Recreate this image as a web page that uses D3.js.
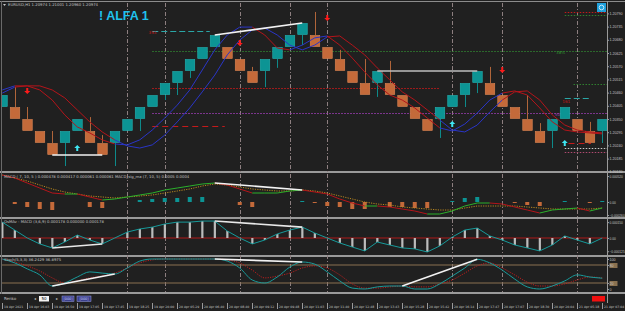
<!DOCTYPE html>
<html>
<head>
<meta charset="utf-8">
<script src="https://cdnjs.cloudflare.com/ajax/libs/d3/7.8.5/d3.min.js"></script>
<style>
  body { margin: 0; background: #202020; }
  svg { display: block; font-family: "DejaVu Sans", sans-serif; }
</style>
</head>
<body>
<div id="chart"></div>
<script>
// ---- renko bricks (close price, 1 = up brick) ----
const boxSize = 0.0005;
const brickClose = [1.20450, 1.20350, 1.20300, 1.20250, 1.20200, 1.20300, 1.20350, 1.20250, 1.20200, 1.20300,
  1.20350, 1.20400, 1.20450, 1.20500, 1.20550, 1.20600, 1.20650, 1.20700, 1.20600, 1.20550,
  1.20500, 1.20600, 1.20650, 1.20700, 1.20750, 1.20650, 1.20600, 1.20550, 1.20500, 1.20450,
  1.20550, 1.20450, 1.20400, 1.20350, 1.20300, 1.20400, 1.20450, 1.20500, 1.20550, 1.20450,
  1.20400, 1.20350, 1.20300, 1.20250, 1.20350, 1.20400, 1.20300, 1.20250, 1.20350];
const brickUp = [1, 0, 0, 0, 0, 1, 1, 0, 0, 1, 1, 1, 1, 1, 1, 1, 1, 1, 0, 0,
  0, 1, 1, 1, 1, 0, 0, 0, 0, 0, 1, 0, 0, 0, 0, 1, 1, 1, 1, 0,
  0, 0, 0, 0, 1, 1, 0, 0, 1];
// wick extremes (null = no wick)
const wickHigh = [null, 1.20483, 1.20400, null, 1.20300, null, null, 1.20358, 1.20283, null,
  null, null, null, null, null, null, null, null, null, null,
  1.20567, null, null, null, null, 1.20796, null, 1.20638, null, 1.20600,
  null, 1.20592, null, null, null, null, null, null, null, 1.20567,
  null, null, 1.20450, 1.20333, null, null, null, 1.20338, null];
const wickLow = [null, null, null, null, null, 1.20154, null, null, null, 1.20154,
  null, 1.20300, null, 1.20429, 1.20450, 1.20521, null, null, null, null,
  null, 1.20483, 1.20563, null, 1.20658, null, null, null, null, null,
  1.20442, null, null, null, null, 1.20271, null, 1.20400, 1.20458, null,
  null, null, null, null, 1.20229, null, null, null, 1.20250];

// ---- two trend lines on the price chart ----
const maFast = [1.20458, 1.20483, 1.20488, 1.20471, 1.20429, 1.20367, 1.20317, 1.20292, 1.20263, 1.20246,
  1.20242, 1.20263, 1.20304, 1.20354, 1.20408, 1.20471, 1.20554, 1.20638, 1.20700, 1.20733,
  1.20733, 1.20700, 1.20646, 1.20638, 1.20658, 1.20688, 1.20696, 1.20658, 1.20604, 1.20546,
  1.20492, 1.20450, 1.20429, 1.20396, 1.20354, 1.20313, 1.20300, 1.20329, 1.20375, 1.20429,
  1.20458, 1.20467, 1.20450, 1.20396, 1.20338, 1.20304, 1.20296, 1.20292, 1.20288];
const maSlow = [1.20471, 1.20488, 1.20488, 1.20488, 1.20471, 1.20438, 1.20388, 1.20338, 1.20296, 1.20263,
  1.20238, 1.20229, 1.20242, 1.20283, 1.20338, 1.20396, 1.20463, 1.20533, 1.20617, 1.20679,
  1.20721, 1.20729, 1.20700, 1.20658, 1.20638, 1.20658, 1.20692, 1.20696, 1.20658, 1.20617,
  1.20563, 1.20513, 1.20463, 1.20429, 1.20388, 1.20346, 1.20304, 1.20296, 1.20325, 1.20379,
  1.20429, 1.20463, 1.20467, 1.20429, 1.20367, 1.20325, 1.20304, 1.20296, 1.20292];
// 1 = blue (up), -1 = red (down)
const fastDir = [1, 1, -1, -1, -1, -1, -1, -1, -1, -1, 1, 1, 1, 1, 1, 1, 1, 1, 1, 1,
  1, -1, -1, -1, 1, 1, 1, -1, -1, -1, -1, -1, -1, -1, -1, -1, 1, 1, 1, 1,
  1, -1, -1, -1, -1, -1, -1, -1, -1];
const slowDir = [1, 1, -1, -1, -1, -1, -1, -1, -1, -1, 1, 1, 1, 1, 1, 1, 1, 1, 1, 1,
  1, 1, 1, 1, 1, 1, 1, -1, -1, -1, -1, -1, -1, -1, -1, -1, 1, 1, 1, 1,
  1, -1, -1, -1, -1, -1, -1, -1, -1];

// signals: [brick index, price]
const sellArrows = [[2, 1.20467], [19, 1.20667], [26, 1.20771], [40, 1.20554]];
const buyArrows = [[6, 1.20229], [36, 1.20329], [45, 1.20250]];

// horizontal levels: [price, from index, to index]
const levelPrices = [1.20717, 1.20633, 1.20479, 1.20375, 1.20322, 1.20796, 1.20783, 1.20496, 1.20438, 1.20250, 1.20229, 1.20213];
const levelFrom = [12, 12, 12, 12, 12, 45, 45, 45.7, 45, 45.3, 45, 45];
const levelTo = [16.6, 48.4, 35, 48.4, 17.8, 48.4, 48.4, 48.4, 47, 47.1, 48.4, 48.4];
const levelStyle = ['tealDash', 'greenDot', 'redDot', 'purpleDot', 'redDash', 'redDot', 'greenDot', 'greenDot', 'tealDash', 'redDash', 'whiteDot', 'pinkDot'];

// trend lines drawn on each window: [from index, to index]
const mainLows = [[4, 8]];
const mainHighs = [[17, 24], [30, 38]];
const macdTrends = [[17, 24]];
const osmaTrends = [[4, 8], [17, 24]];
const stochTrends = [[4, 9], [17, 24], [32, 38]];

const priceTicks = [1.20790, 1.20735, 1.20680, 1.20625, 1.20570, 1.20515, 1.20460, 1.20405, 1.20350, 1.20295, 1.20240, 1.20185, 1.20130];

// ---- MACD window ----
const macdLine = [0.00054, 0.00048, 0.00038, 0.00028, 0.00018, 0.00016, 0.00016, 0.00010, 0.00004, 0.00006,
  0.00010, 0.00014, 0.00018, 0.00024, 0.00028, 0.00032, 0.00036, 0.00038, 0.00034, 0.00026,
  0.00018, 0.00018, 0.00018, 0.00022, 0.00024, 0.00020, 0.00016, 0.00006, -0.00002, -0.00008,
  -0.00008, -0.00010, -0.00014, -0.00018, -0.00024, -0.00024, -0.00018, -0.00008, -0.00002, -0.00002,
  -0.00004, -0.00010, -0.00016, -0.00022, -0.00016, -0.00014, -0.00012, -0.00018, -0.00012];
const macdSignal = [0.00054, 0.00048, 0.00042, 0.00034, 0.00026, 0.00020, 0.00016, 0.00012, 0.00010, 0.00008,
  0.00010, 0.00012, 0.00014, 0.00018, 0.00022, 0.00026, 0.00032, 0.00036, 0.00034, 0.00030,
  0.00026, 0.00024, 0.00022, 0.00022, 0.00024, 0.00022, 0.00018, 0.00012, 0.00006, 0.00000,
  -0.00004, -0.00006, -0.00010, -0.00012, -0.00014, -0.00016, -0.00016, -0.00012, -0.00008, -0.00008,
  -0.00008, -0.00008, -0.00010, -0.00012, -0.00014, -0.00014, -0.00014, -0.00014, -0.00012];
const macdHist = [0, -0.00004, -0.00010, -0.00014, -0.00016, 0, 0, -0.00010, -0.00012, 0,
  0, 0.00004, 0.00006, 0.00008, 0.00008, 0.00010, 0.00010, 0, 0, -0.00006,
  -0.00010, 0, 0, 0, 0.00002, -0.00002, -0.00008, -0.00010, -0.00014, -0.00014,
  0, -0.00010, -0.00010, -0.00012, -0.00012, 0, 0.00002, 0.00008, 0.00010, 0,
  0, -0.00002, -0.00006, -0.00008, 0, 0.00002, 0, -0.00002, 0.00002];

// ---- OsMA window ----
const osma = [0.000150, 0.000075, 0, -0.000056, -0.000094, -0.000038, 0.000028, -0.000019, -0.000056, 0,
  0.000056, 0.000085, 0.000103, 0.000132, 0.000150, 0.000150, 0.000160, 0.000160, 0.000066, 0,
  -0.000056, -0.000019, 0.000038, 0.000075, 0.000103, 0.000047, 0, -0.000047, -0.000085, -0.000122,
  -0.000038, -0.000066, -0.000094, -0.000103, -0.000132, -0.000075, 0.000009, 0.000075, 0.000094, 0.000019,
  -0.000019, -0.000066, -0.000094, -0.000122, -0.000066, 0.000019, -0.000019, -0.000056, 0];

// ---- Stochastic window ----
const stochMain = [100, 87, 67, 47, 10, 20, 40, 57, 53, 50, 70, 93, 100, 100, 100, 100, 100, 100, 93, 70,
  30, 20, 40, 73, 90, 83, 57, 27, 3, 0, 7, 10, 10, 0, 0, 17, 43, 70, 99, 87,
  63, 33, 7, 0, 10, 27, 47, 40, 36];
const stochSignal = [100, 90, 77, 60, 37, 20, 27, 37, 43, 53, 70, 87, 97, 100, 100, 100, 100, 100, 97, 87,
  63, 37, 43, 53, 70, 77, 70, 47, 17, 3, 3, 7, 10, 7, 7, 17, 30, 53, 77, 87,
  70, 47, 23, 10, 10, 17, 30, 40, 37];
const stochLevels = [80, 20];

// period separators (brick index)
const separators = [10, 13, 19, 23, 26, 36, 40, 46];

const timeLabels = ['19 Apr 2021', '19 Apr 16:03', '19 Apr 16:50', '19 Apr 17:05', '19 Apr 17:45', '19 Apr 18:25',
  '19 Apr 20:00', '20 Apr 05:29', '20 Apr 06:40', '20 Apr 08:40', '20 Apr 09:12', '20 Apr 09:48',
  '20 Apr 11:03', '20 Apr 11:40', '20 Apr 12:48', '20 Apr 13:43', '20 Apr 15:28', '20 Apr 15:42',
  '20 Apr 16:14', '20 Apr 17:47', '20 Apr 17:07', '20 Apr 18:30', '20 Apr 20:04', '21 Apr 05:18', '21 Apr 07:04'];

// ------------------------------------------------------------
const W = 625, H = 311;
const plotRight = 607;
const bg = '#202020';
const teal = '#0c9494', tealEdge = '#23b3b3';
const orange = '#c46a3a', orangeEdge = '#dc8552';
const axisText = '#c4c4c4';

const svg = d3.select('#chart').append('svg').attr('width', W).attr('height', H);
svg.append('rect').attr('width', W).attr('height', H).attr('fill', bg);

const idx = d3.range(brickClose.length);
const x = d3.scaleLinear().domain([0, 48]).range([2.25, 602.25]);

const panels = {
    main: [3, 171],
    macd: [173, 217],
    osma: [219, 255],
    stoch: [257, 292]
};

const defs = svg.append('defs');
Object.entries(panels).forEach(([name, [t, b]]) => {
    defs.append('clipPath').attr('id', 'clip-' + name)
        .append('rect').attr('x', 2).attr('y', t).attr('width', plotRight - 2).attr('height', b - t);
});

// panel separators
const seps = [[171, 173], [217, 219], [255, 257], [292, 294]];
seps.forEach(([a, b]) => {
    svg.append('rect').attr('x', 0).attr('y', a).attr('width', W).attr('height', b - a).attr('fill', '#9a9a9a');
});
svg.append('line').attr('x1', 0).attr('x2', W).attr('y1', 1.5).attr('y2', 1.5).attr('stroke', '#8c8c8c');
svg.append('line').attr('x1', 1.5).attr('x2', 1.5).attr('y1', 1).attr('y2', 294).attr('stroke', '#6a6a6a');
svg.append('line').attr('x1', plotRight + 0.5).attr('x2', plotRight + 0.5).attr('y1', 1).attr('y2', 303).attr('stroke', '#9a9a9a');

// period separators through all windows
svg.append('g').selectAll('line').data(separators).enter().append('line')
    .attr('x1', d => Math.round(x(d)) + 0.5).attr('x2', d => Math.round(x(d)) + 0.5)
    .attr('y1', 3).attr('y2', 292)
    .attr('stroke', '#8d7f80').attr('stroke-width', 1)
    .attr('stroke-dasharray', '4,2,1,2');

// ===================== main window =====================
const yMain = d3.scaleLinear().domain([1.20750, 1.20200]).range([23, 155]);
const gMain = svg.append('g').attr('clip-path', 'url(#clip-main)');

const levelColors = {
    tealDash: ['#2aa6a6', '6,3'], greenDot: ['#2f7f2f', '1.5,1.5'], redDot: ['#c41a1a', '1.5,1.5'],
    purpleDot: ['#9a3db0', '1.5,1.5'], redDash: ['#c41a1a', '6,4'], whiteDot: ['#c8c8c8', '1.5,1.5'],
    pinkDot: ['#b04a70', '1.5,1.5']
};
gMain.selectAll('.level').data(levelPrices).enter().append('line')
    .attr('x1', (d, i) => x(levelFrom[i])).attr('x2', (d, i) => x(levelTo[i]))
    .attr('y1', d => Math.round(yMain(d)) + 0.5).attr('y2', d => Math.round(yMain(d)) + 0.5)
    .attr('stroke', (d, i) => levelColors[levelStyle[i]][0])
    .attr('stroke-dasharray', (d, i) => levelColors[levelStyle[i]][1])
    .attr('stroke-width', 1);

// level captions
const levelText = [['393', 1.20705, 11.7, '#c41a1a'], ['38%', 1.20620, 44.3, '#2f8f2f'], ['50%', 1.20362, 44.2, '#9a3db0'], ['161', 1.20418, 44.8, '#c41a1a']];
gMain.selectAll('.ltxt').data(levelText).enter().append('text')
    .attr('x', d => x(d[2])).attr('y', d => yMain(d[1]))
    .attr('fill', d => d[3]).attr('font-size', 4.2).text(d => d[0]);

// wicks
const wickColor = i => brickUp[i] ? '#0e8a8a' : '#b0653a';
const brickTop = i => brickUp[i] ? brickClose[i] : brickClose[i] + boxSize;
const brickBot = i => brickUp[i] ? brickClose[i] - boxSize : brickClose[i];
gMain.selectAll('.wh').data(idx.filter(i => wickHigh[i] != null)).enter().append('line')
    .attr('x1', i => Math.round(x(i)) + 0.5).attr('x2', i => Math.round(x(i)) + 0.5)
    .attr('y1', i => yMain(wickHigh[i])).attr('y2', i => yMain(brickTop(i)))
    .attr('stroke', wickColor);
gMain.selectAll('.wl').data(idx.filter(i => wickLow[i] != null)).enter().append('line')
    .attr('x1', i => Math.round(x(i)) + 0.5).attr('x2', i => Math.round(x(i)) + 0.5)
    .attr('y1', i => yMain(brickBot(i))).attr('y2', i => yMain(wickLow[i]))
    .attr('stroke', wickColor);

// bricks
gMain.selectAll('.brick').data(idx).enter().append('rect')
    .attr('x', i => x(i) - 4.5).attr('width', 9.5)
    .attr('y', i => yMain(brickTop(i)) + 0.5)
    .attr('height', i => yMain(brickBot(i)) - yMain(brickTop(i)) - 1)
    .attr('fill', i => brickUp[i] ? teal : orange)
    .attr('stroke', i => brickUp[i] ? tealEdge : orangeEdge)
    .attr('stroke-width', 0.6);

// trend coloured lines
function drawRuns(g, values, dirs, yScale, upColor, downColor, width) {
    let start = 0;
    for (let i = 1; i <= values.length; i++) {
        if (i === values.length || dirs[i] !== dirs[start]) {
            const seg = d3.range(Math.max(0, start - 1), Math.min(values.length, i));
            g.append('path')
                .attr('d', d3.line().x(j => x(j)).y(j => yScale(values[j]))(seg))
                .attr('fill', 'none')
                .attr('stroke', dirs[start] > 0 ? upColor : downColor)
                .attr('stroke-width', width);
            start = i;
        }
    }
}
drawRuns(gMain, maSlow, slowDir, yMain, '#2a35c8', '#b4141a', 1);
drawRuns(gMain, maFast, fastDir, yMain, '#2a35c8', '#b4141a', 1);

// trend lines on price
const trendLine = (g, pairs, val, yScale, color) => {
    g.selectAll(null).data(pairs).enter().append('line')
        .attr('x1', d => x(d[0])).attr('x2', d => x(d[1]))
        .attr('y1', d => yScale(val(d[0]))).attr('y2', d => yScale(val(d[1])))
        .attr('stroke', color).attr('stroke-width', 1.6);
};
trendLine(gMain, mainLows, brickBot, yMain, '#f2f2f2');
trendLine(gMain, mainHighs.slice(0, 1), brickTop, yMain, '#f2f2f2');
trendLine(gMain, mainHighs.slice(1), brickTop, yMain, '#bdbdbd');

// arrows
gMain.selectAll('.sell').data(sellArrows).enter().append('path')
    .attr('transform', d => `translate(${x(d[0])},${yMain(d[1])})`)
    .attr('d', 'M-1,-3 L1,-3 L1,0 L3,0 L0,3 L-3,0 L-1,0 Z')
    .attr('fill', '#ff1a1a');
gMain.selectAll('.buy').data(buyArrows).enter().append('path')
    .attr('transform', d => `translate(${x(d[0])},${yMain(d[1])})`)
    .attr('d', 'M-1,3 L1,3 L1,0 L3,0 L0,-3 L-3,0 L-1,0 Z')
    .attr('fill', '#3fe6f2');

// title and header
svg.append('text').attr('x', 99).attr('y', 19.5).attr('fill', '#1fc3ee')
    .attr('font-family', 'Liberation Sans, Arial, sans-serif').attr('font-weight', 'bold')
    .attr('font-size', 12.5).text('! ALFA 1');
svg.append('path').attr('d', 'M3,4 L6,4 L4.5,6 Z').attr('fill', '#c4c4c4');
svg.append('text').attr('x', 8).attr('y', 6.3).attr('fill', axisText).attr('font-size', 3.8)
    .text('EURUSD,H1  1.20974  1.21001  1.20960  1.20974');

// top-right button
svg.append('rect').attr('x', 597).attr('y', 3).attr('width', 9).attr('height', 9).attr('fill', '#1ea0dc');
svg.append('circle').attr('cx', 601.5).attr('cy', 7.5).attr('r', 2.3).attr('fill', 'none').attr('stroke', '#e8f6ff').attr('stroke-width', 0.8);

// price axis
const axisMain = svg.append('g').attr('transform', `translate(${plotRight},0)`)
    .call(d3.axisRight(yMain).tickValues(priceTicks).tickSize(2).tickFormat(d3.format('.5f')));
function styleAxis(g, size) {
    g.select('.domain').remove();
    g.selectAll('line').attr('stroke', '#9a9a9a');
    g.selectAll('text').attr('fill', axisText).attr('font-size', size || 3.6).attr('x', 2.5);
}
styleAxis(axisMain);

// ===================== MACD window =====================
const yMacd = d3.scaleLinear().domain([-0.0003, 0.0006]).range([217, 172]);
const gMacd = svg.append('g').attr('clip-path', 'url(#clip-macd)');
gMacd.selectAll('.hist').data(idx.filter(i => macdHist[i] !== 0)).enter().append('rect')
    .attr('x', i => x(i) - 2).attr('width', 4)
    .attr('y', i => Math.min(yMacd(0), yMacd(macdHist[i])))
    .attr('height', i => Math.max(1, Math.abs(yMacd(macdHist[i]) - yMacd(0))))
    .attr('fill', i => macdHist[i] > 0 ? teal : orange);
gMacd.append('path')
    .attr('d', d3.line().x(i => x(i)).y(i => yMacd(macdSignal[i]))(idx))
    .attr('fill', 'none').attr('stroke', '#c8921e').attr('stroke-width', 0.9).attr('stroke-dasharray', '1.2,1.2');
const macdDir = idx.map(i => i === 0 ? -1 : (macdLine[i] >= macdLine[i - 1] ? 1 : -1));
drawRuns(gMacd, macdLine, macdDir, yMacd, '#2bb02b', '#b4141a', 1);
trendLine(gMacd, macdTrends, i => macdLine[i], yMacd, '#f2f2f2');
svg.append('text').attr('x', 4).attr('y', 177.5).attr('fill', axisText).attr('font-size', 3.8)
    .text('MACD ( 7, 10, 5 )  0.000478  0.000417  0.000061  0.000061      MACD_sig_ma (7, 10, 5)  0.0005  0.0004');
const axisMacd = svg.append('g').attr('transform', `translate(${plotRight},0)`)
    .call(d3.axisRight(yMacd).tickValues([0.00052, 0, -0.00026]).tickSize(2)
        .tickFormat(d => d === 0 ? '0.00' : d3.format('.6f')(d)));
styleAxis(axisMacd, 3.2);

// ===================== OsMA window =====================
const yOsma = d3.scaleLinear().domain([-0.00017, 0.00017]).range([256, 220]);
const gOsma = svg.append('g').attr('clip-path', 'url(#clip-osma)');
gOsma.append('line').attr('x1', 2).attr('x2', plotRight).attr('y1', yOsma(0)).attr('y2', yOsma(0))
    .attr('stroke', '#b01818').attr('stroke-width', 1);
gOsma.selectAll('.obar').data(idx.filter(i => osma[i] !== 0)).enter().append('rect')
    .attr('x', i => x(i) - 1).attr('width', 2.2)
    .attr('y', i => Math.min(yOsma(0), yOsma(osma[i])))
    .attr('height', i => Math.abs(yOsma(osma[i]) - yOsma(0)))
    .attr('fill', '#bcbcbc');
gOsma.append('path')
    .attr('d', d3.line().x(i => x(i)).y(i => yOsma(osma[i]))(idx))
    .attr('fill', 'none').attr('stroke', '#169a9a').attr('stroke-width', 1);
trendLine(gOsma, osmaTrends, i => osma[i], yOsma, '#e8e8e8');
svg.append('text').attr('x', 4).attr('y', 223).attr('fill', axisText).attr('font-size', 3.8)
    .text('OsMAv - MACD (3,6,9)  0.000178  0.000000  0.000178');
const axisOsma = svg.append('g').attr('transform', `translate(${plotRight},0)`)
    .call(d3.axisRight(yOsma).tickValues([0.00015, 0, -0.000125]).tickSize(2)
        .tickFormat(d => d === 0 ? '0.00' : d3.format('.6f')(d)));
styleAxis(axisOsma, 3.2);

// ===================== Stochastic window =====================
const yStoch = d3.scaleLinear().domain([0, 100]).range([289, 259]);
const gStoch = svg.append('g').attr('clip-path', 'url(#clip-stoch)');
gStoch.selectAll('.lvl').data(stochLevels).enter().append('line')
    .attr('x1', 2).attr('x2', plotRight).attr('y1', d => yStoch(d)).attr('y2', d => yStoch(d))
    .attr('stroke', '#8a7150').attr('stroke-width', 1);
gStoch.append('path')
    .attr('d', d3.line().x(i => x(i)).y(i => yStoch(stochSignal[i])).curve(d3.curveMonotoneX)(idx))
    .attr('fill', 'none').attr('stroke', '#c81e1e').attr('stroke-width', 0.9).attr('stroke-dasharray', '1.2,1.2');
gStoch.append('path')
    .attr('d', d3.line().x(i => x(i)).y(i => yStoch(stochMain[i])).curve(d3.curveMonotoneX)(idx))
    .attr('fill', 'none').attr('stroke', '#189a9a').attr('stroke-width', 1);
trendLine(gStoch, stochTrends, i => stochMain[i], yStoch, '#f2f2f2');
svg.append('text').attr('x', 4).attr('y', 261).attr('fill', axisText).attr('font-size', 3.8)
    .text('Stoch(5,3,3)  36.2429  36.8975');
const axisStoch = svg.append('g').attr('transform', `translate(${plotRight},0)`)
    .call(d3.axisRight(yStoch).tickValues([100, 80, 20, 0]).tickSize(2).tickFormat(d3.format('d')));
styleAxis(axisStoch);
axisStoch.selectAll('.tick').filter(d => d === 80 || d === 20).insert('rect', 'text')
    .attr('x', 2.5).attr('y', -2.5).attr('width', 8).attr('height', 5).attr('fill', '#8a7150');

// ===================== bottom bar =====================
svg.append('text').attr('x', 4).attr('y', 300).attr('fill', axisText).attr('font-size', 4).text('Renko');
svg.append('text').attr('x', 34).attr('y', 300).attr('fill', axisText).attr('font-size', 4).text('◂');
svg.append('rect').attr('x', 39).attr('y', 296).attr('width', 10).attr('height', 5.5).attr('fill', '#f4f4f4');
svg.append('text').attr('x', 44).attr('y', 300.3).attr('text-anchor', 'middle').attr('fill', '#000').attr('font-size', 4).text('50');
svg.append('text').attr('x', 56).attr('y', 300).attr('fill', axisText).attr('font-size', 4).text('▸');
[[62, 12], [77, 14]].forEach(([bx, bw]) => {
    svg.append('rect').attr('x', bx).attr('y', 296).attr('width', bw).attr('height', 5.5)
        .attr('fill', '#3b3f8c').attr('stroke', '#9aa0e0').attr('stroke-width', 0.5);
    svg.append('text').attr('x', bx + bw / 2).attr('y', 300.2).attr('text-anchor', 'middle')
        .attr('fill', '#d0d4ff').attr('font-size', 3.4).text('[000]');
});
svg.append('rect').attr('x', 592).attr('y', 296).attr('width', 13).attr('height', 5.5).attr('fill', '#f01010');

// time axis
const tg = svg.append('g');
timeLabels.forEach((t, k) => {
    const tx = Math.round(x(2 * k)) + 0.5;
    tg.append('line').attr('x1', tx).attr('x2', tx).attr('y1', 303).attr('y2', 309).attr('stroke', '#9a9a9a');
    tg.append('text').attr('x', tx + 1.5).attr('y', 308).attr('fill', axisText).attr('font-size', 3.1).text(t);
});
</script>
</body>
</html>
